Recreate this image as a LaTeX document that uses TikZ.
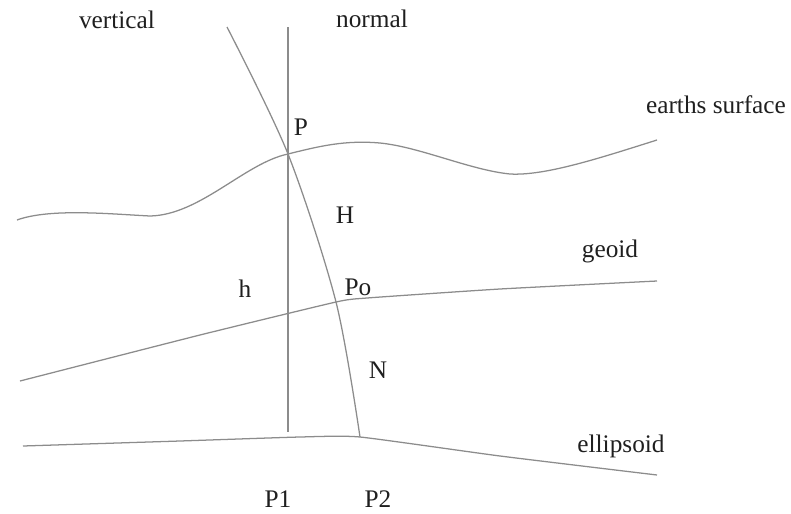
\documentclass[tikz,border=0pt]{standalone}
\usepackage{fontspec}
\setmainfont{Liberation Serif}
\usepackage{tikz}
\usepackage{xcolor}

\definecolor{linegray}{gray}{0.55}
\definecolor{textgray}{gray}{0.12}
\tikzset{
    surf/.style={line width=0.9pt, color=linegray, line join=round},
    lbl/.style={anchor=base, inner sep=0pt, text=textgray, font=\fontsize{18}{20}\selectfont}
}

\begin{document}
\begin{tikzpicture}[x=0.025cm, y=-0.025cm]
    \useasboundingbox (0,0) rectangle (791,514);

    % Points
    \coordinate (P) at (288,154);
    \coordinate (Po) at (336,302);
    \coordinate (P2) at (360,437);
    \coordinate (vtop) at (288,27);
    \coordinate (vbot) at (288,432);
    \coordinate (ntop) at (227,27);

    % Earths surface
    \draw[surf] (17,220) .. controls (50,208) and (110,214) .. (150,216)
        .. controls (200,215) and (245,163) .. (P)
        .. controls (320,146) and (345,140) .. (380,143)
        .. controls (420,147) and (470,170) .. (510,174)
        .. controls (545,176) and (600,158) .. (657,140);

    % Geoid
    \draw[surf] plot[smooth, tension=0.3] coordinates {(20,381) (200,335) (Po) (367,298) (500,289) (657,281)};

    % Ellipsoid
    \draw[surf] plot[smooth, tension=0.3] coordinates {(23,446) (180,441) (300,437) (P2) (500,456) (657,475)};

    % Vertical and normal
    \draw[surf] (vtop) -- (vbot);
    \draw[surf] plot[smooth, tension=0.5] coordinates {(ntop) (P) (Po) (P2)};

    % Labels
    \node[lbl] (lvert) at (117,28) {vertical};
    \node[lbl] (lnorm) at (372,27) {normal};
    \node[lbl] (lP) at (301,135) {P};
    \node[lbl] (learth) at (716,113) {earths surface};
    \node[lbl] (lH) at (345,223) {H};
    \node[lbl] (lgeoid) at (610,257) {geoid};
    \node[lbl] (lh) at (245,297) {h};
    \node[lbl] (lPo) at (358,295) {Po};
    \node[lbl] (lN) at (378,378) {N};
    \node[lbl] (lell) at (621,452) {ellipsoid};
    \node[lbl] (lP1) at (278,507) {P1};
    \node[lbl] (lP2) at (378,507) {P2};
\end{tikzpicture}
\end{document}
